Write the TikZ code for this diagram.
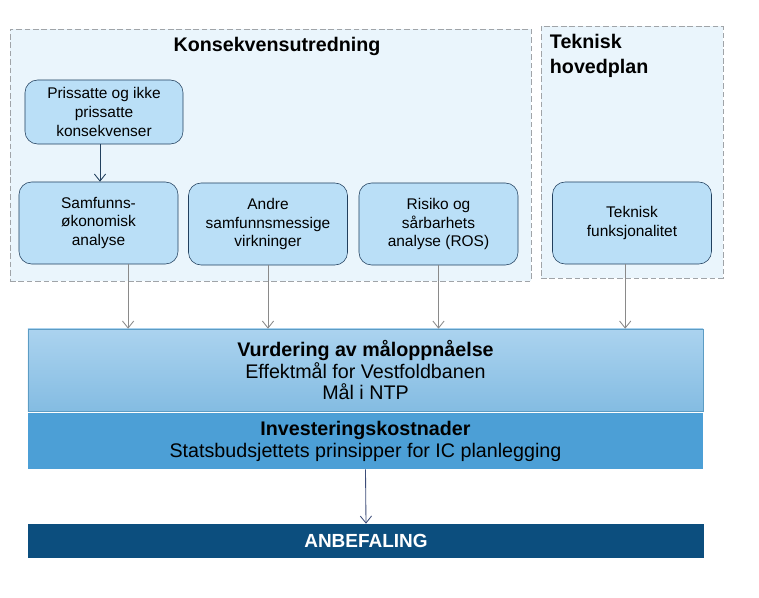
\documentclass[tikz,border=0pt]{standalone}
\usepackage{fontspec}
\setmainfont{Liberation Sans}
\usetikzlibrary{positioning,arrows.meta}
\definecolor{areafill}{HTML}{EAF5FC}
\definecolor{arealine}{HTML}{A0A4A8}
\definecolor{blockfill}{HTML}{BADFF7}
\definecolor{blockline}{HTML}{22405E}
\definecolor{arrowgray}{HTML}{8A8A8A}
\definecolor{arrowblue}{HTML}{3C4C78}
\definecolor{vurdtop}{HTML}{ABD3EF}
\definecolor{vurdbottom}{HTML}{84BCE2}
\definecolor{vurdline}{HTML}{5C9CC4}
\definecolor{investfill}{HTML}{4C9FD6}
\definecolor{anbefill}{HTML}{0C4E7E}
\tikzstyle{area} = [rectangle, draw=arealine, dash pattern=on 4pt off 2pt, fill=areafill, inner sep=0pt]
\tikzstyle{block} = [rectangle, draw=blockline, fill=blockfill, rounded corners=9pt, text centered, align=center, minimum width=3.975cm, minimum height=2.05cm, font=\fontsize{11}{13.5}\selectfont]
\tikzstyle{title} = [font=\fontsize{14}{17.7}\selectfont\bfseries, align=left]
\tikzstyle{band} = [rectangle, minimum width=16.875cm, inner sep=0pt, align=center, font=\fontsize{14}{15.6}\selectfont]
\tikzstyle{line} = [draw=arrowgray, line width=0.6pt, -{Straight Barb[length=5pt,width=8pt]}]

\begin{document}
\begin{tikzpicture}[x=0.025cm, y=-0.025cm]
	\useasboundingbox (0,0) rectangle (759,598);
	% grupper
	\node [area, minimum width=13.025cm, minimum height=6.3cm] (kuarea) at (270.5,155) {};
	\node [area, minimum width=4.55cm, minimum height=6.3cm] (tekarea) at (632,152) {};
	\node [title] (kutitle) at (277,46) {Konsekvensutredning};
	\node [title, anchor=west] (tektitle) at (545,56) {Teknisk\\hovedplan};
	
	\node [block, minimum width=3.95cm, minimum height=1.6cm] (prissatte) at (104,112) {Prissatte og ikke\\prissatte\\konsekvenser};
	\node [block] (samfunn) at (98.5,223) {Samfunns-\\økonomisk\\analyse};
	\node [block] (andre) at (268,224) {Andre\\samfunnsmessige\\virkninger};
	\node [block] (risiko) at (438.5,224) {Risiko og\\sårbarhets\\analyse (ROS)};
	\node [block] (teknisk) at (632,223) {Teknisk\\funksjonalitet};
	
	% vurdering
	\node [band, minimum height=2.05cm, top color=vurdtop, bottom color=vurdbottom, draw=vurdline, line width=0.4pt] (vurdering) at (365.5,370) {\textbf{Vurdering av måloppnåelse}\\Effektmål for Vestfoldbanen\\Mål i NTP};
	\node [band, minimum height=1.4cm, fill=investfill] (invest) at (365.5,441) {\textbf{Investeringskostnader}\\Statsbudsjettets prinsipper for IC planlegging};
	\node [band, minimum height=0.85cm, fill=anbefill, text=white, font=\fontsize{13.5}{15}\selectfont\bfseries] (anbefaling) at (366,541) {ANBEFALING};
	
	\path[line, draw=blockline] ([xshift=-0.1cm]prissatte.south) -- ([xshift=-0.1cm]prissatte.south |- samfunn.north);
	\path[line] ([xshift=0.74cm]samfunn.south) -- ([xshift=0.74cm]samfunn.south |- vurdering.north);
	\path[line] (andre.south) -- (andre.south |- vurdering.north);
	\path[line] (risiko.south) -- (risiko.south |- vurdering.north);
	\path[line] ([xshift=-0.17cm]teknisk.south) -- ([xshift=-0.17cm]teknisk.south |- vurdering.north);
	\path[line, draw=arrowblue] (invest.south) -- (anbefaling.north);
\end{tikzpicture}
\end{document}
